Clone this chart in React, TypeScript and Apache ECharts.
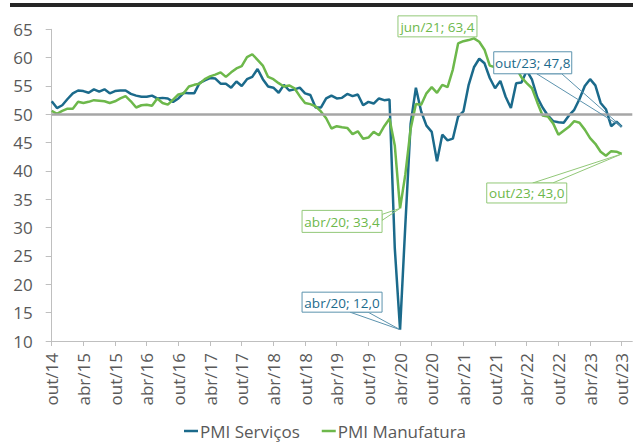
import React, { useEffect, useRef } from 'react';
import * as echarts from 'echarts';

const monthNames = ['jan', 'fev', 'mar', 'abr', 'mai', 'jun', 'jul', 'ago', 'set', 'out', 'nov', 'dez'];
const firstYear = 2014;
const firstMonth = 9; // out/14
const categoryCount = 111; // out/14 .. dez/23 (axis runs a little past the last point)
const categories: string[] = [];
for (let i = 0; i < categoryCount; i++) {
  const m = (firstMonth + i) % 12;
  const y = firstYear + Math.floor((firstMonth + i) / 12);
  categories.push(`${monthNames[m]}/${String(y).slice(2)}`);
}

const seriesNames = ['PMI Serviços', 'PMI Manufatura'];

const servicos = [
  52.3, 51.1, 51.6,
  52.7, 53.7, 54.2, 54.1, 53.8, 54.4, 54.0, 54.4, 53.7, 54.1, 54.2, 54.2,
  53.6, 53.3, 53.1, 53.1, 53.3, 52.8, 52.9, 52.8, 52.2, 52.8, 53.8, 53.7,
  53.7, 55.5, 56.0, 56.4, 56.3, 55.4, 55.4, 54.7, 55.8, 55.0, 56.2, 56.6,
  58.0, 56.2, 54.9, 54.7, 53.8, 55.2, 54.2, 54.4, 54.7, 53.7, 53.4, 51.2,
  51.2, 52.8, 53.3, 52.8, 52.9, 53.6, 53.2, 53.5, 51.6, 52.2, 51.9, 52.8,
  52.5, 52.6, 26.4, 12.0, 30.5, 48.3, 54.7, 50.5, 48.0, 46.9, 41.7, 46.4,
  45.4, 45.7, 49.6, 50.5, 55.2, 58.3, 59.8, 59.0, 56.4, 54.6, 55.9, 53.1,
  51.1, 55.5, 55.6, 57.7, 56.1, 53.0, 51.2, 49.8, 48.8, 48.6, 48.5, 49.8,
  50.8, 52.7, 55.0, 56.2, 55.1, 52.0, 50.9, 47.9, 48.7, 47.8,
];

const manufatura = [
  50.6, 50.1, 50.6,
  51.0, 51.0, 52.2, 52.0, 52.2, 52.5, 52.4, 52.3, 52.0, 52.3, 52.8, 53.2,
  52.3, 51.2, 51.6, 51.7, 51.5, 52.8, 52.0, 51.7, 52.6, 53.5, 53.7, 54.9,
  55.2, 55.4, 56.2, 56.7, 57.0, 57.4, 56.6, 57.4, 58.1, 58.5, 60.1, 60.6,
  59.6, 58.6, 56.6, 56.2, 55.5, 54.9, 55.1, 54.6, 53.2, 52.0, 51.8, 51.4,
  50.5, 49.3, 47.5, 47.9, 47.7, 47.6, 46.5, 47.0, 45.7, 45.9, 46.9, 46.3,
  47.9, 49.2, 44.5, 33.4, 39.4, 47.4, 51.8, 51.7, 53.7, 54.8, 53.8, 55.2,
  54.8, 57.9, 62.5, 62.9, 63.1, 63.4, 62.8, 61.4, 58.6, 58.3, 58.4, 58.0,
  58.7, 58.2, 56.5, 55.5, 54.6, 52.1, 49.8, 49.6, 48.4, 46.4, 47.1, 47.8,
  48.8, 48.5, 47.3, 45.8, 44.8, 43.4, 42.7, 43.5, 43.4, 43.0,
];

const referenceLevel = 50;
const yMin = 10;
const yMax = 65;
const yStep = 5;

// annotated points: series index (0 serviços, 1 manufatura) and month index
const calloutPoints = [
  { s: 1, i: 80 },
  { s: 0, i: 108 },
  { s: 1, i: 66 },
  { s: 0, i: 66 },
  { s: 1, i: 108 },
];
// layout of each callout box relative to its point (pixels)
const calloutLayout = [
  { dx: -76, dy: -22.5, w: 79, h: 21, wedge: null as null | number[][] },
  { dx: -128, dy: -75, w: 78, h: 22, wedge: [[43, 22], [68, 22]] },
  { dx: -98, dy: 2, w: 80, h: 22, wedge: [[80, 4], [80, 10]] },
  { dx: -98, dy: -37.5, w: 80, h: 20, wedge: [[48, 20], [66, 20]] },
  { dx: -135, dy: 29, w: 80, h: 20, wedge: [[46, 0], [66, 0]] },
];

const BLUE = '#1B6A8B';
const GREEN = '#6DB84B';
const BLUE_BORDER = '#5C93AE';
const GREEN_BORDER = '#92C878';
const TEXT = '#595959';
const AXIS = '#BFBFBF';
const FONT = '"Open Sans", "DejaVu Sans", sans-serif';

export default function App() {
  const ref = useRef<HTMLDivElement>(null);

  useEffect(() => {
    if (!ref.current) return;
    const chart = echarts.init(ref.current, null, { renderer: 'svg' });
    const option: any = {
      animation: false,
      backgroundColor: '#ffffff',
      textStyle: { fontFamily: FONT },
      grid: { left: 51.7, right: 0.7, top: 29.3, bottom: 102 },
      legend: {
        data: seriesNames,
        left: 184,
        top: 421,
        icon: 'rect',
        itemWidth: 14,
        itemHeight: 2.5,
        itemGap: 22,
        padding: 0,
        textStyle: { fontSize: 17, lineHeight: 20, color: TEXT, fontFamily: FONT, padding: [0, 0, 0, -3] },
      },
      xAxis: {
        type: 'category',
        data: categories,
        boundaryGap: false,
        axisLine: { lineStyle: { color: AXIS, width: 1 } },
        axisTick: { show: true, interval: 5, length: 5, lineStyle: { color: AXIS } },
        axisLabel: {
          interval: 5,
          rotate: 90,
          margin: 12,
          fontSize: 17,
          color: TEXT,
          fontFamily: FONT,
        },
        splitLine: { show: false },
      },
      yAxis: {
        type: 'value',
        min: yMin,
        max: yMax,
        interval: yStep,
        axisLine: { show: true, lineStyle: { color: AXIS, width: 1 } },
        axisTick: { show: true, length: 6, lineStyle: { color: AXIS } },
        axisLabel: { margin: 19, fontSize: 17, color: TEXT, fontFamily: FONT },
        splitLine: { show: false },
      },
      series: [
        {
          name: seriesNames[0],
          type: 'line',
          data: servicos,
          showSymbol: false,
          symbol: 'none',
          color: BLUE,
          lineStyle: { color: BLUE, width: 2.5 },
          z: 3,
          markLine: {
            silent: true,
            symbol: 'none',
            label: { show: false },
            lineStyle: { color: '#A6A6A6', width: 2.5, type: 'solid' },
            data: [{ yAxis: referenceLevel }],
          },
        },
        {
          name: seriesNames[1],
          type: 'line',
          data: manufatura,
          showSymbol: false,
          symbol: 'none',
          color: GREEN,
          lineStyle: { color: GREEN, width: 2.5 },
          z: 4,
        },
      ],
    };
    chart.setOption(option);

    const graphics: any[] = [
      {
        type: 'rect',
        z: 100,
        shape: { x: 10, y: 3, width: 623, height: 4 },
        style: { fill: '#262626' },
      },
    ];
    const seriesData = [servicos, manufatura];
    calloutPoints.forEach((cp, k) => {
      const lay = calloutLayout[k];
      const value = seriesData[cp.s][cp.i];
      const p = chart.convertToPixel({ gridIndex: 0 }, [cp.i, value]) as number[];
      const bx = p[0] + lay.dx;
      const by = p[1] + lay.dy;
      const stroke = cp.s === 0 ? BLUE_BORDER : GREEN_BORDER;
      const color = cp.s === 0 ? BLUE : GREEN;
      if (lay.wedge) {
        graphics.push({
          type: 'polygon',
          z: 100,
          shape: {
            points: [
              [bx + lay.wedge[0][0], by + lay.wedge[0][1]],
              [p[0], p[1]],
              [bx + lay.wedge[1][0], by + lay.wedge[1][1]],
            ],
          },
          style: { fill: 'none', stroke, lineWidth: 1 },
        });
      }
      graphics.push({
        type: 'rect',
        z: 101,
        shape: { x: bx, y: by, width: lay.w, height: lay.h },
        style: { fill: '#ffffff', stroke, lineWidth: 1 },
      });
      graphics.push({
        type: 'text',
        z: 102,
        x: bx + lay.w / 2,
        y: by + lay.h / 2 + 0.5,
        style: {
          text: `${categories[cp.i]}; ${value.toFixed(1).replace('.', ',')}`,
          fill: color,
          font: `13.5px ${FONT}`,
          align: 'center',
          verticalAlign: 'middle',
        },
      });
    });
    chart.setOption({ graphic: graphics });

    return () => chart.dispose();
  }, []);

  return (
    <div
      ref={ref}
      style={{ position: 'fixed', left: 0, top: 0, width: 633, height: 443, background: '#fff' }}
    />
  );
}
